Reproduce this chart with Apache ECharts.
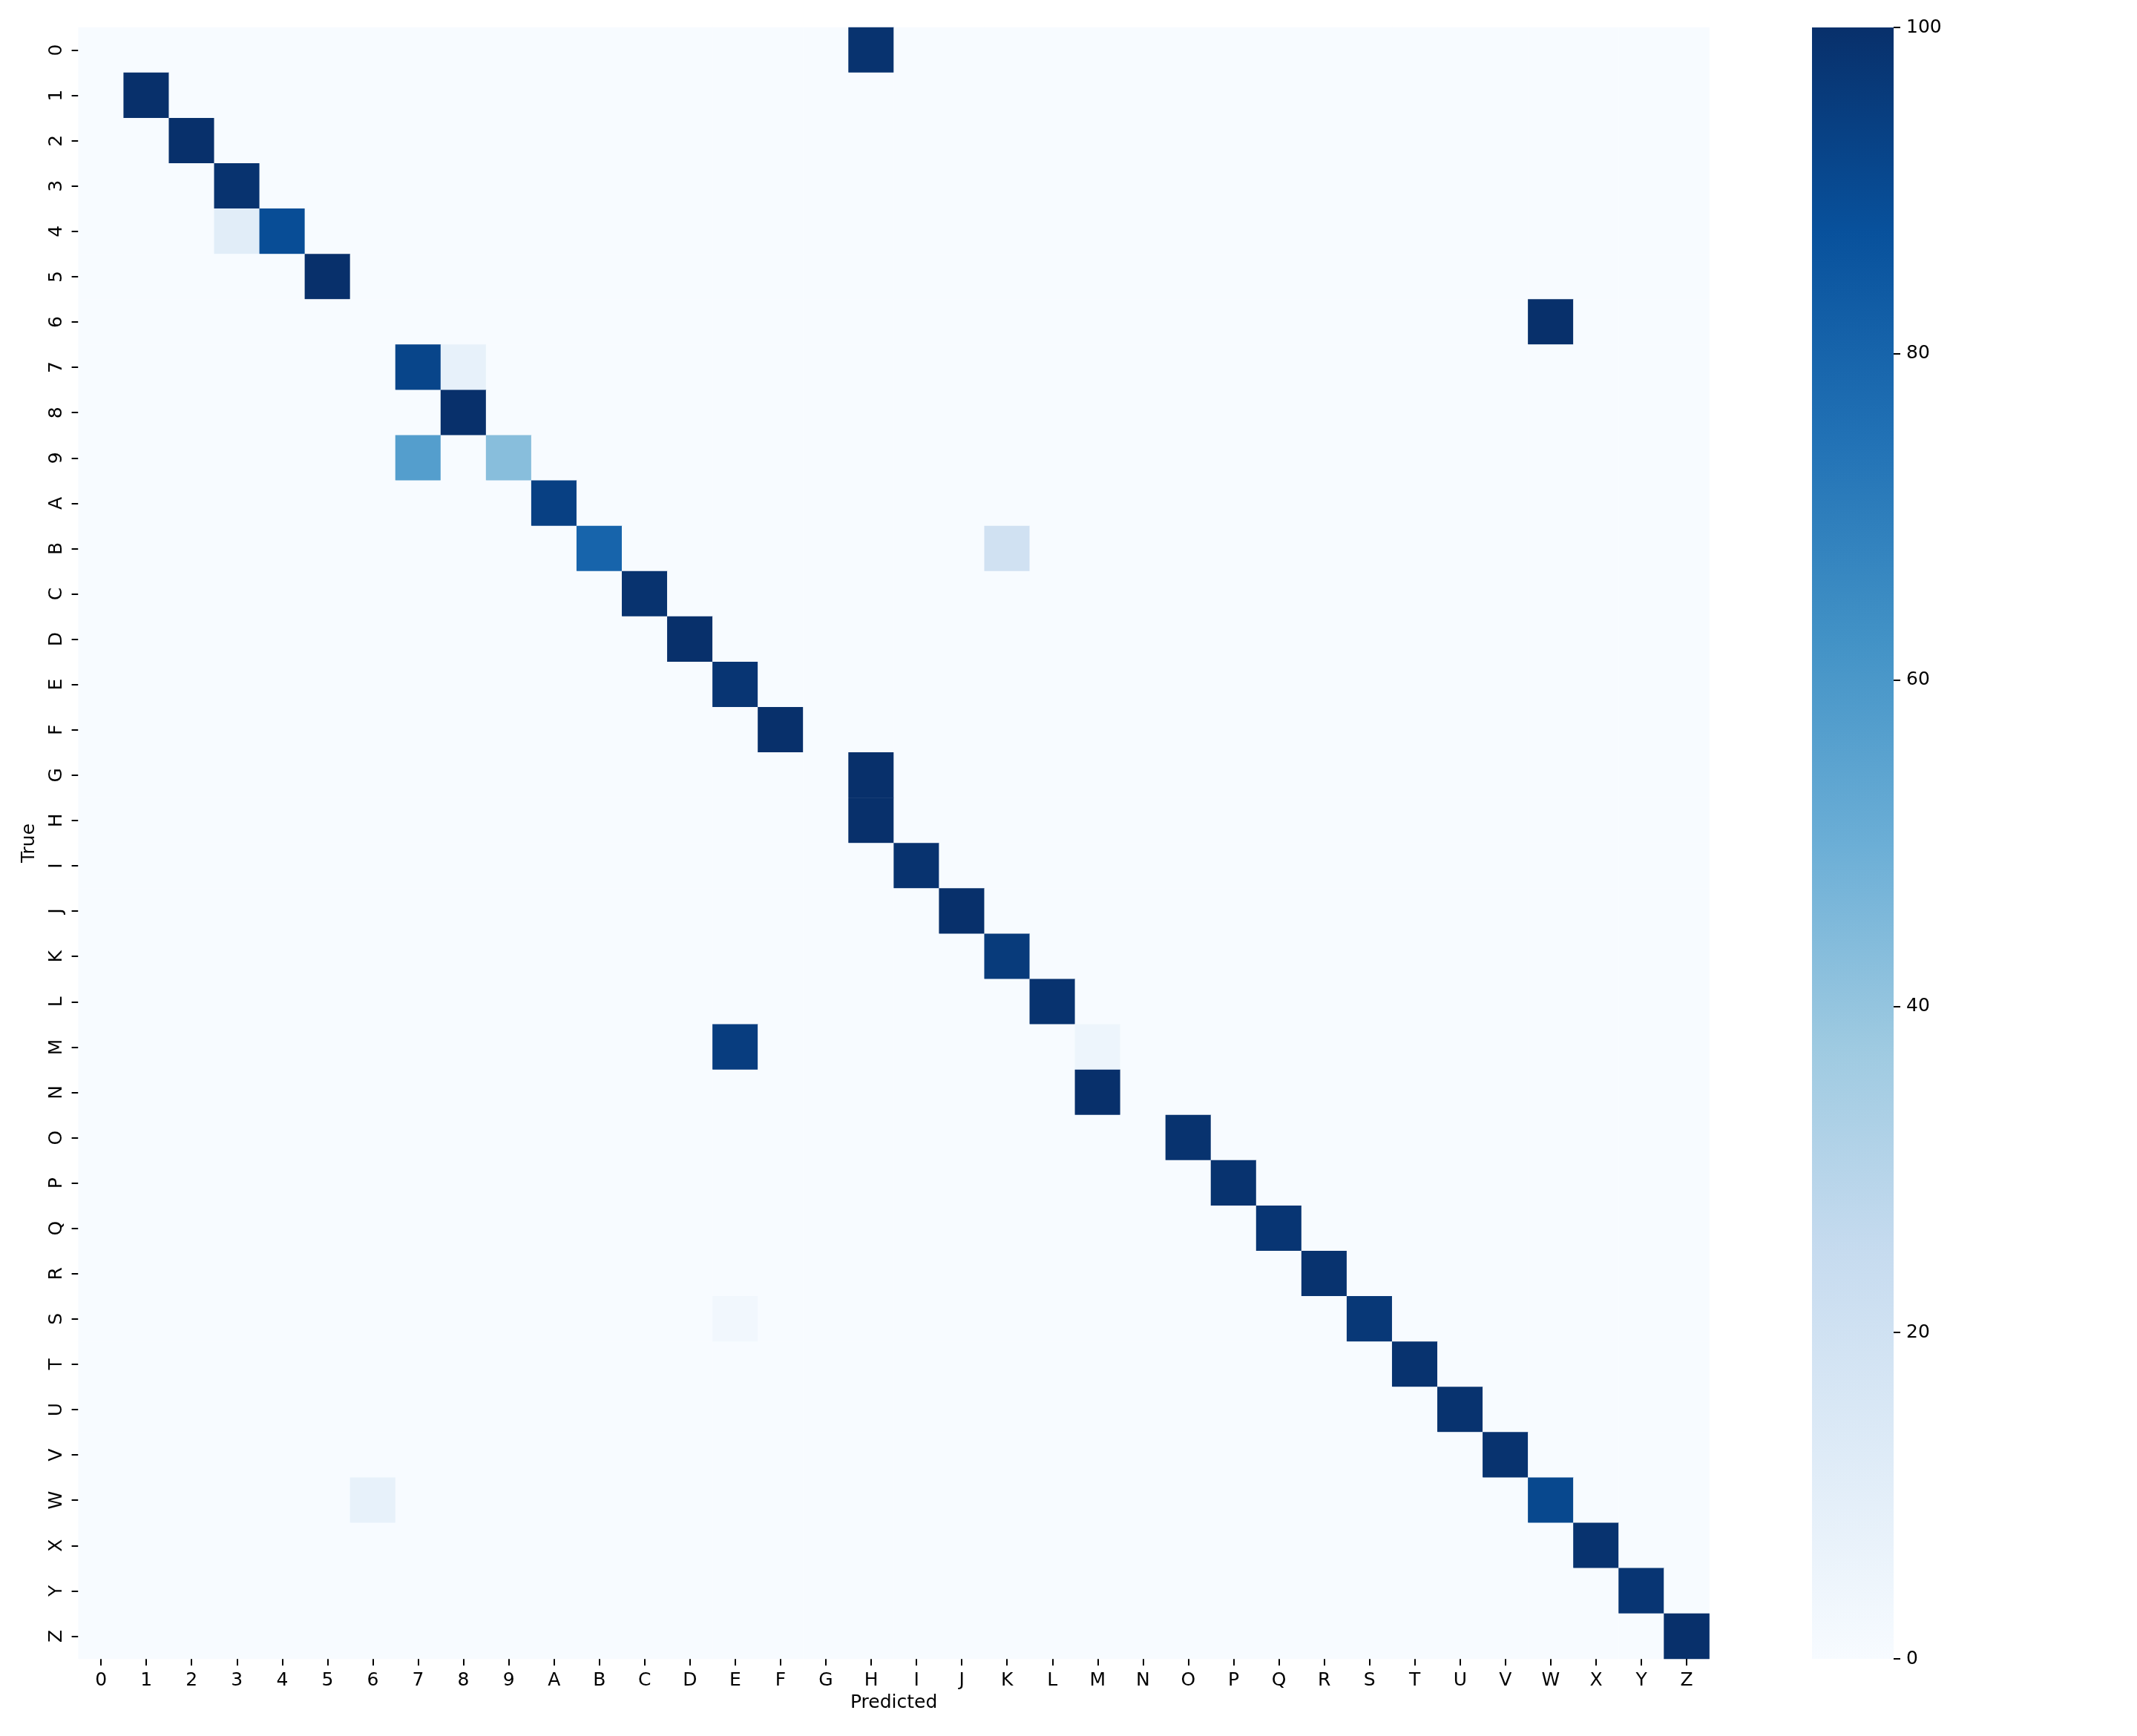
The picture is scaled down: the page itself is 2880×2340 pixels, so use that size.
<!DOCTYPE html>
<html>
<head>
<meta charset="utf-8">
<script src="https://cdn.jsdelivr.net/npm/echarts@6/dist/echarts.min.js"></script>
<style>
  html, body { margin: 0; padding: 0; background: #ffffff; }
  #chart { width: 2880px; height: 2340px; }
</style>
</head>
<body>
<div id="chart"></div>
<script>
// Class labels (rows = true, columns = predicted)
const classLabels = ['0','1','2','3','4','5','6','7','8','9','A','B','C','D','E','F','G','H','I','J','K','L','M','N','O','P','Q','R','S','T','U','V','W','X','Y','Z'];

// Non-zero cells: [true label, predicted label, percent]
const nonZeroCells = [
  ['0','H',99], ['1','1',100], ['2','2',100], ['3','3',99],
  ['4','3',11], ['4','4',89], ['5','5',100], ['6','W',100],
  ['7','7',92], ['7','8',8], ['8','8',100], ['9','7',57], ['9','9',43],
  ['A','A',94], ['B','B',80], ['B','K',20], ['C','C',99], ['D','D',100],
  ['E','E',98], ['F','F',100], ['G','H',100], ['H','H',100], ['I','I',99],
  ['J','J',100], ['K','K',96], ['L','L',99], ['M','E',95], ['M','M',5],
  ['N','M',100], ['O','O',99], ['P','P',99], ['Q','Q',98], ['R','R',99],
  ['S','E',3], ['S','S',97], ['T','T',99], ['U','U',99], ['V','V',99],
  ['W','6',8], ['W','W',91], ['X','X',99], ['Y','Y',98], ['Z','Z',100]
];

// Colour bar ticks
const colorbarTicks = [0, 20, 40, 60, 80, 100];

// matplotlib "Blues" colormap stops
const bluesStops = ['#f7fbff','#deebf7','#c6dbef','#9ecae1','#6baed6','#4292c6','#2171b5','#08519c','#08306b'];

// Build full matrix (all other cells are zero)
const lookup = {};
nonZeroCells.forEach(function (c) { lookup[c[0] + '|' + c[1]] = c[2]; });
const heatData = [];
classLabels.forEach(function (t, ti) {
  classLabels.forEach(function (p, pi) {
    const v = lookup[t + '|' + p];
    heatData.push([pi, ti, v === undefined ? 0 : v]);
  });
});

const vMin = colorbarTicks[0];
const vMax = colorbarTicks[colorbarTicks.length - 1];

const FONT = 'DejaVu Sans';
const chart = echarts.init(document.getElementById('chart'), null, { renderer: 'canvas' });

chart.setOption({
  backgroundColor: '#ffffff',
  animation: false,
  textStyle: { fontFamily: FONT, color: '#000' },
  grid: [
    { left: 105.6, top: 37, width: 2198, height: 2199 },
    { left: 2442, top: 37, width: 110, height: 2199 }
  ],
  xAxis: [
    {
      type: 'category', gridIndex: 0, data: classLabels, position: 'bottom',
      name: 'Predicted', nameLocation: 'middle', nameGap: 47,
      nameTextStyle: { fontFamily: FONT, fontSize: 25, color: '#000' },
      axisLine: { show: false },
      axisTick: { show: true, alignWithLabel: true, length: 9, lineStyle: { color: '#000', width: 2 } },
      axisLabel: { fontFamily: FONT, fontSize: 25, color: '#000', margin: 17, interval: 0 },
      splitLine: { show: false }, splitArea: { show: false }
    },
    {
      type: 'value', gridIndex: 1, min: 0, max: 1,
      axisLine: { show: false, onZero: false }, axisTick: { show: false },
      axisLabel: { show: false }, splitLine: { show: false }
    }
  ],
  yAxis: [
    {
      type: 'category', gridIndex: 0, data: classLabels, inverse: true, position: 'left',
      name: 'True', nameLocation: 'middle', nameGap: 54, nameRotate: 90,
      nameTextStyle: { fontFamily: FONT, fontSize: 25, color: '#000' },
      axisLine: { show: false },
      axisTick: { show: true, alignWithLabel: true, length: 9, lineStyle: { color: '#000', width: 2 } },
      axisLabel: { fontFamily: FONT, fontSize: 25, color: '#000', margin: 17, rotate: 90, interval: 0 },
      splitLine: { show: false }, splitArea: { show: false }
    },
    {
      type: 'value', gridIndex: 1, min: vMin, max: vMax,
      interval: colorbarTicks[1] - colorbarTicks[0], position: 'right',
      axisLine: { show: false, onZero: false },
      axisTick: { show: true, length: 9, lineStyle: { color: '#000', width: 2 } },
      axisLabel: { fontFamily: FONT, fontSize: 25, color: '#000', margin: 17 },
      splitLine: { show: false }
    }
  ],
  visualMap: {
    type: 'continuous',
    show: false,
    min: vMin, max: vMax,
    seriesIndex: 0,
    inRange: { color: bluesStops }
  },
  series: [
    {
      type: 'heatmap',
      xAxisIndex: 0, yAxisIndex: 0,
      data: heatData,
      itemStyle: { borderWidth: 0 },
      emphasis: { disabled: true },
      progressive: 0
    }
  ]
});

// Colour bar: gradient rectangle spanning the helper grid, positioned via the library's own axes
const topLeft = chart.convertToPixel({ xAxisIndex: 1, yAxisIndex: 1 }, [0, vMax]);
const bottomRight = chart.convertToPixel({ xAxisIndex: 1, yAxisIndex: 1 }, [1, vMin]);
const gradStops = bluesStops.map(function (c, i) {
  return { offset: 1 - i / (bluesStops.length - 1), color: c };
}).reverse();
chart.setOption({
  graphic: [{
    type: 'rect',
    z: -1,
    shape: {
      x: topLeft[0], y: topLeft[1],
      width: bottomRight[0] - topLeft[0],
      height: bottomRight[1] - topLeft[1]
    },
    style: {
      fill: new echarts.graphic.LinearGradient(0, 0, 0, 1, gradStops)
    },
    silent: true
  }]
});
</script>
</body>
</html>
